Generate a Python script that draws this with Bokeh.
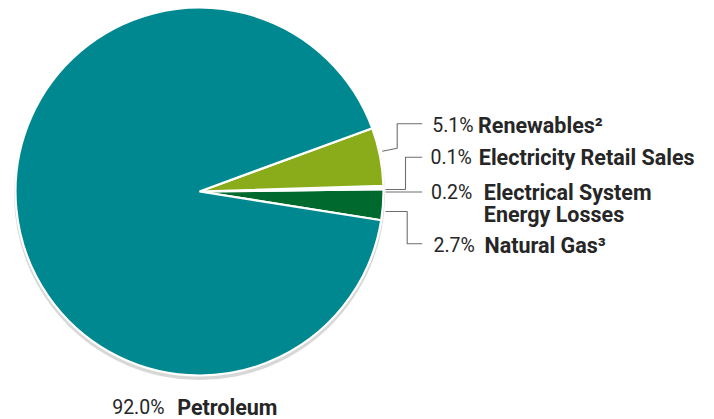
import math
from bokeh.plotting import figure
from bokeh.models import Range1d
from bokeh.core.properties import value
from bokeh.embed import file_html
from bokeh.resources import INLINE

# ---- data (counter-clockwise order, starting below the horizontal) ----
categories = ["Natural Gas³", "Electrical System Energy Losses", "Electricity Retail Sales",
              "Renewables²", "Petroleum"]
shares = [2.7, 0.2, 0.1, 5.1, 92.0]
pct_labels = ["2.7%", "0.2%", "0.1%", "5.1%", "92.0%"]
colors = ["#006a2e", "#eef0f0", "#eef0f0", "#8aab1a", "#008891"]

W, H = 714, 419
CX, CY, R = 199, 191, 184
START_DEG = -9.0

def py(v):
    return H - v

p = figure(width=W, height=H, x_range=Range1d(0, W), y_range=Range1d(0, H),
           output_backend="svg", toolbar_location=None, min_border=0)
p.axis.visible = False
p.grid.visible = False
p.outline_line_color = None
p.background_fill_color = "white"

# shadow
p.circle(x=[CX], y=[py(CY) - 3], radius=R + 1.5, fill_color="#b8b8b8", fill_alpha=0.55,
         line_color=None)
p.circle(x=[CX], y=[py(CY) - 1.5], radius=R + 1, fill_color="#d6d6d6", fill_alpha=0.6,
         line_color=None)

total = sum(shares)
starts, ends = [], []
a = math.radians(START_DEG)
for s in shares:
    starts.append(a)
    a += s / total * 2 * math.pi
    ends.append(a)

p.wedge(x=[CX] * len(shares), y=[py(CY)] * len(shares), radius=R,
        start_angle=starts, end_angle=ends, direction="anticlock",
        fill_color=colors, line_color="white", line_width=2.2)

# leader lines (layout)
leaders = [
    [(381.7, 150.7), (396.7, 147.7), (396.7, 123.3), (421.7, 123.3)],   # renewables
    [(385.0, 189.0), (405.0, 189.0), (405.0, 156.7), (421.7, 156.7)],   # retail
    [(385.0, 191.5), (421.7, 191.5)],                                  # losses
    [(385.0, 211.0), (406.7, 211.0), (406.7, 243.3), (421.7, 243.3)],   # gas
]
p.multi_line(xs=[[q[0] for q in l] for l in leaders],
             ys=[[py(q[1]) for q in l] for l in leaders],
             line_color="#6d6e71", line_width=1.1)

FONT = value("Roboto")
FS_PCT = "19.5px"
FS_NAME = "21.5px"
TXT = "#262626"
BASE_SHIFT = 6.5

# label layout: (pct x, name x, baseline y) per category index
label_pos = {
    3: (431.7, 477.5, 131.0),
    2: (430.0, 478.3, 163.3),
    1: (430.5, 483.3, 198.3),
    0: (433.0, 484.0, 251.7),
    4: (111.7, 176.7, 413.0),
}
names_lines = {
    1: ["Electrical System", "Energy Losses"],
}
LINE_GAP = 22.4

for i, (px, nx, by) in label_pos.items():
    p.text(x=[px], y=[py(by - BASE_SHIFT)], text=[pct_labels[i]], text_font=FONT,
           text_font_size=FS_PCT, text_color=TXT, text_baseline="alphabetic",
           text_align="left")
    lines = names_lines.get(i, [categories[i]])
    for k, ln in enumerate(lines):
        p.text(x=[nx], y=[py(by - BASE_SHIFT + k * LINE_GAP)], text=[ln], text_font=FONT,
               text_font_size=FS_NAME, text_font_style="bold", text_color=TXT,
               text_baseline="alphabetic", text_align="left")

open("out.html", "w").write(file_html(p, INLINE))
